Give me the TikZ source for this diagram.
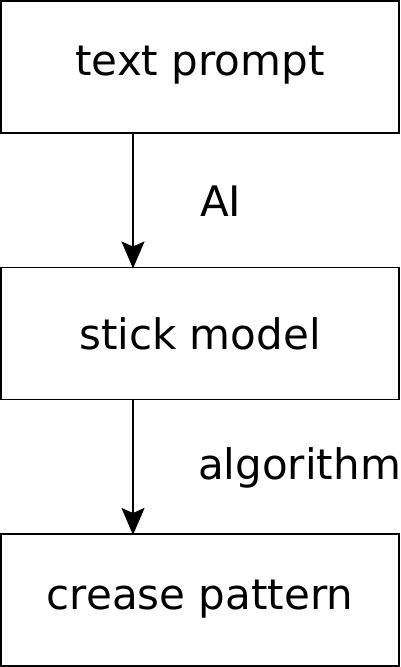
\documentclass[tikz,border=0pt]{standalone}
\usepackage{fontspec}
\setmainfont{DejaVu Sans}
\usetikzlibrary{arrows.meta}
\begin{document}
\begin{tikzpicture}[x=1pt,y=1pt,
  box/.style={draw, line width=1.8pt, minimum width=398pt, minimum height=132pt, inner sep=0pt, outer sep=0pt},
  txt/.style={anchor=base, inner sep=0pt, font=\fontsize{42}{50}\selectfont},
  lbl/.style={anchor=base west, inner sep=0pt, font=\fontsize{42}{50}\selectfont},
  arr/.style={line width=1.8pt, -{Stealth[length=27pt, width=23pt, inset=5pt]}}]
\useasboundingbox (0,0) rectangle (400,667);
\node[box] (b1) at (200,600) {};
\node[box] (b2) at (200,333.5) {};
\node[box] (b3) at (200,67) {};
\node[txt] (t1) at (200,591) {text prompt};
\node[txt] (t2) at (200,317) {stick model};
\node[txt] (t3) at (200,57) {crease pattern};
\draw[arr] ([xshift=-67pt]b1.south) -- ([xshift=-67pt,yshift=-1pt]b2.north);
\draw[arr] ([xshift=-67pt]b2.south) -- ([xshift=-67pt,yshift=-1pt]b3.north);
\node[lbl] (l1) at (200,450) {AI};
\node[lbl] (l2) at (198,187) {algorithm};
\end{tikzpicture}
\end{document}
